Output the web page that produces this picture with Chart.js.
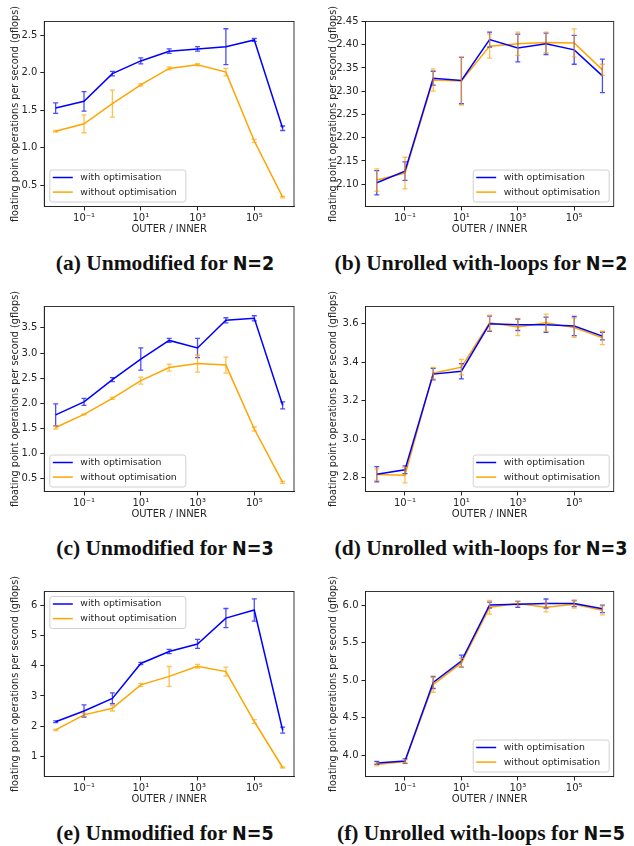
<!DOCTYPE html>
<html>
<head>
<meta charset="utf-8">
<script src="https://cdn.jsdelivr.net/npm/chart.js@4.4.1/dist/chart.umd.min.js"></script>
<style>
  body { margin: 0; background: #fff; width: 634px; height: 846px; position: relative; overflow: hidden; }
  .panel { position: absolute; width: 317px; height: 240px; }
  .cap {
    position: absolute; width: 400px; text-align: center; line-height: 24px;
    font-family: "Liberation Serif", serif; font-weight: bold; font-size: 21.5px; color: #111;
  }
  .cap span { font-family: "DejaVu Sans Condensed", "DejaVu Sans", sans-serif; font-stretch: condensed; font-size: 19.5px; }
</style>
</head>
<body>
<div class="panel" style="left:0;top:0"><canvas id="chartA" width="317" height="240"></canvas></div>
<div class="panel" style="left:318px;top:0"><canvas id="chartB" width="316" height="240"></canvas></div>
<div class="panel" style="left:0;top:285px"><canvas id="chartC" width="317" height="240"></canvas></div>
<div class="panel" style="left:318px;top:285px"><canvas id="chartD" width="316" height="240"></canvas></div>
<div class="panel" style="left:0;top:570px"><canvas id="chartE" width="317" height="240"></canvas></div>
<div class="panel" style="left:318px;top:570px"><canvas id="chartF" width="316" height="240"></canvas></div>

<div class="cap" style="left:-35px;top:251px">(a) Unmodified for <span>N=2</span></div>
<div class="cap" style="left:281px;top:251px">(b) Unrolled with-loops for <span>N=2</span></div>
<div class="cap" style="left:-35px;top:536px">(c) Unmodified for <span>N=3</span></div>
<div class="cap" style="left:281px;top:536px">(d) Unrolled with-loops for <span>N=3</span></div>
<div class="cap" style="left:-35px;top:821px">(e) Unmodified for <span>N=5</span></div>
<div class="cap" style="left:281px;top:821px">(f) Unrolled with-loops for <span>N=5</span></div>

<script>
// OUTER / INNER ratios (same for every panel)
const xValues = [0.01, 0.1, 1, 10, 100, 1000, 10000, 100000, 1000000];
const xTicks = [0.1, 10, 1000, 100000];
const xTickLabels = ['10\u207B\u00B9', '10\u00B9', '10\u00B3', '10\u2075'];

// (a) Unmodified, N=2
const aWith = [1.53, 1.62, 1.99, 2.16, 2.29, 2.32, 2.35, 2.44, 1.26];
const aWithErr = [0.07, 0.13, 0.03, 0.04, 0.03, 0.03, 0.24, 0.02, 0.03];
const aWithout = [1.22, 1.32, 1.59, 1.84, 2.06, 2.11, 2.01, 1.09, 0.34];
const aWithoutErr = [0.01, 0.12, 0.18, 0.015, 0.02, 0.015, 0.05, 0.02, 0.01];
const aTicks = [0.5, 1.0, 1.5, 2.0, 2.5];
const aTickLabels = ['0.5', '1.0', '1.5', '2.0', '2.5'];

// (b) Unrolled with-loops, N=2
const bWith = [2.103, 2.128, 2.328, 2.323, 2.411, 2.393, 2.402, 2.389, 2.333];
const bWithErr = [0.026, 0.02, 0.015, 0.05, 0.016, 0.03, 0.023, 0.031, 0.036];
const bWithout = [2.109, 2.124, 2.324, 2.322, 2.397, 2.402, 2.405, 2.404, 2.346];
const bWithoutErr = [0.024, 0.034, 0.024, 0.052, 0.026, 0.025, 0.022, 0.03, 0.012];
const bTicks = [2.10, 2.15, 2.20, 2.25, 2.30, 2.35, 2.40, 2.45];
const bTickLabels = ['2.10', '2.15', '2.20', '2.25', '2.30', '2.35', '2.40', '2.45'];

// (c) Unmodified, N=3
const cWith = [1.77, 2.03, 2.47, 2.88, 3.25, 3.10, 3.65, 3.69, 1.96];
const cWithErr = [0.22, 0.07, 0.04, 0.22, 0.04, 0.19, 0.05, 0.05, 0.07];
const cWithout = [1.52, 1.78, 2.10, 2.45, 2.71, 2.79, 2.76, 1.49, 0.43];
const cWithoutErr = [0.03, 0.01, 0.02, 0.07, 0.07, 0.17, 0.16, 0.04, 0.02];
const cTicks = [0.5, 1.0, 1.5, 2.0, 2.5, 3.0, 3.5];
const cTickLabels = ['0.5', '1.0', '1.5', '2.0', '2.5', '3.0', '3.5'];

// (d) Unrolled with-loops, N=3
const dWith = [2.817, 2.84, 3.338, 3.353, 3.60, 3.595, 3.595, 3.588, 3.536];
const dWithErr = [0.04, 0.02, 0.03, 0.04, 0.04, 0.03, 0.04, 0.05, 0.02];
const dWithout = [2.815, 2.812, 3.343, 3.374, 3.605, 3.583, 3.605, 3.58, 3.527];
const dWithoutErr = [0.03, 0.04, 0.03, 0.04, 0.04, 0.045, 0.045, 0.05, 0.035];
const dTicks = [2.8, 3.0, 3.2, 3.4, 3.6];
const dTickLabels = ['2.8', '3.0', '3.2', '3.4', '3.6'];

// (e) Unmodified, N=5
const eWith = [2.14, 2.50, 2.92, 4.08, 4.48, 4.73, 5.59, 5.86, 1.86];
const eWithErr = [0.03, 0.2, 0.18, 0.04, 0.07, 0.15, 0.32, 0.37, 0.1];
const eWithout = [1.87, 2.37, 2.59, 3.37, 3.65, 3.99, 3.81, 2.15, 0.62];
const eWithoutErr = [0.02, 0.05, 0.09, 0.05, 0.33, 0.06, 0.15, 0.06, 0.02];
const eTicks = [1, 2, 3, 4, 5, 6];
const eTickLabels = ['1', '2', '3', '4', '5', '6'];

// (f) Unrolled with-loops, N=5
const fWith = [3.90, 3.925, 4.97, 5.255, 6.0, 6.01, 6.02, 6.02, 5.95];
const fWithErr = [0.02, 0.03, 0.08, 0.08, 0.04, 0.04, 0.06, 0.04, 0.05];
const fWithout = [3.88, 3.92, 4.94, 5.23, 5.97, 6.02, 5.97, 6.01, 5.93];
const fWithoutErr = [0.02, 0.02, 0.1, 0.06, 0.09, 0.03, 0.06, 0.05, 0.06];
const fTicks = [4.0, 4.5, 5.0, 5.5, 6.0];
const fTickLabels = ['4.0', '4.5', '5.0', '5.5', '6.0'];

const FONT = 'DejaVu Sans';
const TEXT = '#262626';
const BLUE = '#0000ff';
const ORANGE = '#ffa500';

// error bars with little caps, drawn through the scales
const errorBars = {
  id: 'errorBars',
  afterDatasetsDraw(chart) {
    const { ctx, scales: { x, y } } = chart;
    chart.data.datasets.forEach(ds => {
      ctx.save();
      ctx.strokeStyle = ds.borderColor;
      ctx.globalAlpha = 0.7;
      ctx.lineWidth = 1.3;
      ds.data.forEach((p, i) => {
        const e = ds.errors[i];
        const px = x.getPixelForValue(p.x);
        const top = y.getPixelForValue(p.y + e);
        const bot = y.getPixelForValue(p.y - e);
        ctx.beginPath();
        ctx.moveTo(px, top); ctx.lineTo(px, bot);
        ctx.moveTo(px - 2.5, top); ctx.lineTo(px + 2.5, top);
        ctx.moveTo(px - 2.5, bot); ctx.lineTo(px + 2.5, bot);
        ctx.stroke();
      });
      ctx.restore();
    });
  }
};

// box around the plot, y title and the matplotlib style legend
const decorations = {
  id: 'decorations',
  afterDraw(chart, args, opts) {
    const { ctx, chartArea: a } = chart;
    ctx.save();
    ctx.strokeStyle = '#222';
    ctx.lineWidth = 0.9;
    ctx.strokeRect(a.left, a.top, a.right - a.left, a.bottom - a.top);

    // y axis title (may run past the canvas, like the original)
    ctx.fillStyle = TEXT;
    ctx.font = '9.7px "' + FONT + '"';
    ctx.textAlign = 'center';
    ctx.textBaseline = 'middle';
    ctx.translate(15, (a.top + a.bottom) / 2);
    ctx.rotate(-Math.PI / 2);
    ctx.fillText('floating point operations per second (gflops)', 0, 0);
    ctx.restore();

    // legend
    const w = 136, h = 32;
    const bx = opts.pos[1] === 'l' ? a.left + 5 : a.right - 5 - w;
    const by = opts.pos[0] === 'u' ? a.top + 4.5 : a.bottom - 5 - h;
    ctx.save();
    ctx.fillStyle = 'rgba(255,255,255,0.85)';
    ctx.strokeStyle = '#d0d0d0';
    ctx.lineWidth = 1;
    ctx.beginPath();
    ctx.roundRect(bx + 0.5, by + 0.5, w, h, 2.5);
    ctx.fill(); ctx.stroke();
    ctx.font = '9.4px "' + FONT + '"';
    ctx.textBaseline = 'middle';
    chart.data.datasets.forEach((ds, i) => {
      const ly = by + 8 + i * 14.6;
      ctx.strokeStyle = ds.borderColor;
      ctx.lineWidth = 1.5;
      ctx.beginPath();
      ctx.moveTo(bx + 3.5, ly); ctx.lineTo(bx + 23.5, ly);
      ctx.stroke();
      ctx.fillStyle = TEXT;
      ctx.fillText(ds.label, bx + 31, ly);
    });
    ctx.restore();
  }
};

function makeChart(id, withVals, withErr, withoutVals, withoutErr, yMin, yMax, yTicks, yLabels, legendPos, axisWidth, padRight) {
  const font = { family: FONT, size: 10 };
  new Chart(document.getElementById(id), {
    type: 'line',
    data: {
      datasets: [
        {
          label: 'with optimisation',
          data: xValues.map((x, i) => ({ x, y: withVals[i] })),
          errors: withErr,
          borderColor: BLUE, borderWidth: 1.5, pointRadius: 0, tension: 0
        },
        {
          label: 'without optimisation',
          data: xValues.map((x, i) => ({ x, y: withoutVals[i] })),
          errors: withoutErr,
          borderColor: ORANGE, borderWidth: 1.5, pointRadius: 0, tension: 0
        }
      ]
    },
    options: {
      responsive: false,
      animation: false,
      devicePixelRatio: 1,
      layout: { padding: { top: 21.5, right: padRight, left: 0, bottom: 0 } },
      plugins: {
        legend: { display: false },
        tooltip: { enabled: false },
        decorations: { pos: legendPos }
      },
      scales: {
        x: {
          type: 'logarithmic',
          min: Math.pow(10, -2.4),
          max: Math.pow(10, 6.4),
          afterBuildTicks: s => { s.ticks = xTicks.map(v => ({ value: v })); },
          afterFit: s => { s.height = 240 - 206.5; },
          ticks: {
            autoSkip: false, maxRotation: 0, padding: 2, color: TEXT, font,
            callback: (v, i) => xTickLabels[i]
          },
          grid: { display: true, drawOnChartArea: false, tickLength: 4, color: '#222' },
          border: { display: true, color: '#222', width: 0.9 },
          title: { display: true, text: 'OUTER / INNER', color: TEXT, font, padding: { top: 0, bottom: 5 } }
        },
        y: {
          min: yMin,
          max: yMax,
          afterBuildTicks: s => { s.ticks = yTicks.map(v => ({ value: v })); },
          afterFit: s => { s.width = axisWidth; },
          ticks: {
            padding: 3, color: TEXT, font,
            callback: (v, i) => yLabels[i]
          },
          grid: { display: true, drawOnChartArea: false, tickLength: 4, color: '#222' },
          border: { display: true, color: '#222', width: 0.9 }
        }
      }
    },
    plugins: [errorBars, decorations]
  });
}

makeChart('chartA', aWith, aWithErr, aWithout, aWithoutErr, 0.214, 2.687, aTicks, aTickLabels, 'll', 44.3, 23);
makeChart('chartB', bWith, bWithErr, bWithout, bWithoutErr, 2.052, 2.45, bTicks, bTickLabels, 'lr', 47.5, 20.3);
makeChart('chartC', cWith, cWithErr, cWithout, cWithoutErr, 0.248, 3.924, cTicks, cTickLabels, 'll', 44.3, 23);
makeChart('chartD', dWith, dWithErr, dWithout, dWithoutErr, 2.727, 3.69, dTicks, dTickLabels, 'lr', 47.5, 20.3);
makeChart('chartE', eWith, eWithErr, eWithout, eWithoutErr, 0.32, 6.475, eTicks, eTickLabels, 'ul', 44.3, 23);
makeChart('chartF', fWith, fWithErr, fWithout, fWithoutErr, 3.72, 6.18, fTicks, fTickLabels, 'lr', 47.5, 20.3);
</script>
</body>
</html>
